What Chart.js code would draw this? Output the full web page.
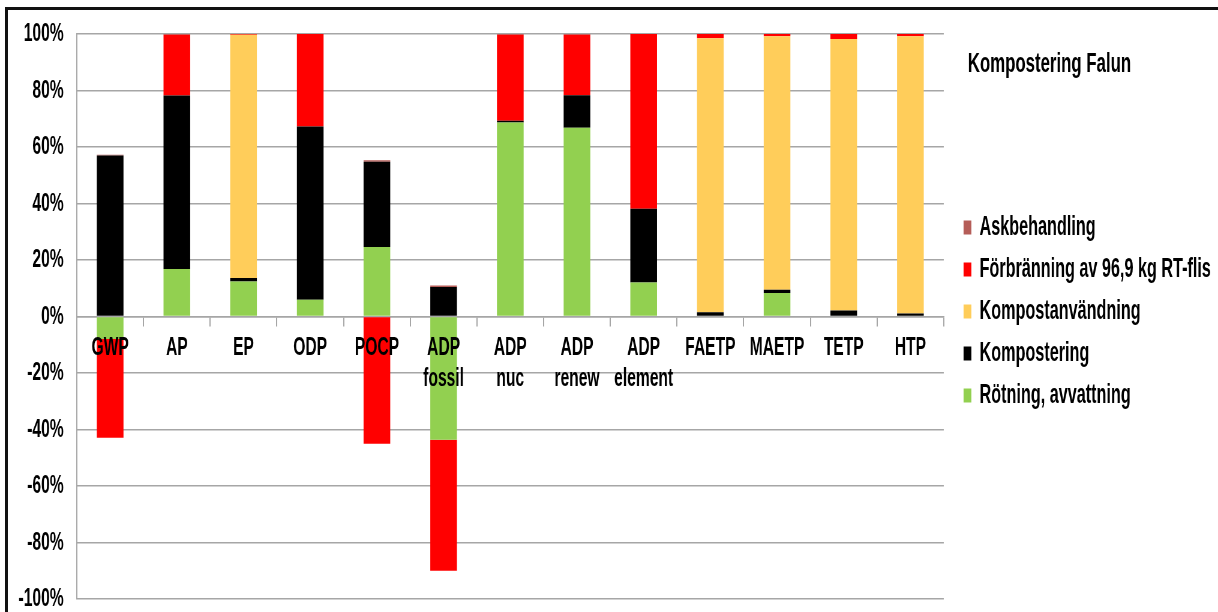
<!DOCTYPE html>
<html lang="sv">
<head>
<meta charset="utf-8">
<title>Kompostering Falun</title>
<script src="https://cdn.jsdelivr.net/npm/chart.js@4.4.1/dist/chart.umd.min.js"></script>
<style>
    html, body { margin: 0; padding: 0; background: #fff; overflow: hidden; }
    #frame {
        position: absolute; left: 5px; top: 7px; width: 1300px; height: 700px;
        border-top: 3px solid #111; border-left: 3px solid #111;
    }
    #lcaChart { position: absolute; left: 0; top: 0; }
</style>
</head>
<body>
<div id="frame"></div>
<!-- the original chart is squeezed horizontally, so draw it wide and show it at 1218px -->
<canvas id="lcaChart" width="2030" height="612" style="width:1218px;height:612px"></canvas>

<script>
// ==============================
// Data (share of total impact, %)
// ==============================
const categories = ["GWP", "AP", "EP", "ODP", "POCP", ["ADP", "fossil"], ["ADP", "nuc"],
    ["ADP", "renew"], ["ADP", "element"], "FAETP", "MAETP", "TETP", "HTP"];

const rotning          = [-8.0, 16.8, 12.4, 5.9, 24.6, -43.6, 68.7, 66.8, 12.0, 0, 8.3, 0, 0.3];
const kompostering     = [57.0, 61.4, 1.2, 61.4, 30.2, 10.4, 0.6, 11.5, 26.1, 1.5, 1.2, 2.1, 0.8];
const kompostanvandning = [0, 0, 86.1, 0, 0, 0, 0, 0, 0, 97.0, 89.7, 96.1, 98.1];
const forbranning      = [-34.9, 21.5, 0.5, 32.7, -45.0, -46.4, 30.4, 21.4, 61.9, 1.5, 0.8, 1.8, 0.8];
const askbehandling    = [0.3, 0.3, 0.1, 0, 0.5, 0.6, 0.3, 0.3, 0.1, 0, 0.1, 0, 0];

const yTicks = [-100, -80, -60, -40, -20, 0, 20, 40, 60, 80, 100];
const chartTitle = "Kompostering Falun";

// ==============================
// Chart
// ==============================
Chart.defaults.font.family = '"Liberation Sans", Arial, sans-serif';
Chart.defaults.color = "#000";

const gridColor = "#a6a6a6";
const labelFont = { size: 26, weight: "bold", lineHeight: 1.2 };

// move the legend a bit away from the plot and draw the side title above it
const sideTitle = {
    id: "sideTitle",
    beforeDraw(chart) {
        const lg = chart.legend;
        const w = lg.width;
        lg.left = chart.chartArea.right + 18;
        lg.right = lg.left + w;
        lg.top = 29;
        lg.bottom = 594;
    },
    afterDraw(chart) {
        const ctx = chart.ctx;
        ctx.save();
        ctx.font = 'bold 28px "Liberation Sans", Arial, sans-serif';
        ctx.fillStyle = "#000";
        ctx.textBaseline = "middle";
        ctx.fillText(chartTitle, chart.legend.left + 22, 64);
        ctx.restore();
    }
};

const ctx = document.getElementById("lcaChart").getContext("2d");
const chart = new Chart(ctx, {
    type: "bar",
    data: {
        labels: categories,
        datasets: [
            { label: "Rötning, avvattning", data: rotning, backgroundColor: "#92d050" },
            { label: "Kompostering", data: kompostering, backgroundColor: "#000000" },
            { label: "Kompostanvändning", data: kompostanvandning, backgroundColor: "#ffcd5a" },
            { label: "Förbränning av 96,9 kg RT-flis", data: forbranning, backgroundColor: "#ff0000" },
            { label: "Askbehandling", data: askbehandling, backgroundColor: "#b55d58" }
        ]
    },
    options: {
        responsive: false,
        devicePixelRatio: 1,
        animation: false,
        layout: { padding: { top: 34, bottom: 13, left: 0, right: 20 } },
        datasets: {
            bar: { categoryPercentage: 1, barPercentage: 0.4, borderWidth: 0 }
        },
        scales: {
            x: {
                stacked: true,
                position: { y: 0 },
                grid: { drawOnChartArea: false, drawTicks: true, tickLength: 9, color: gridColor, lineWidth: 2 },
                border: { color: gridColor, width: 1.5 },
                ticks: { font: labelFont, padding: 7, maxRotation: 0, autoSkip: false, z: 1 }
            },
            y: {
                stacked: true,
                min: -100,
                max: 100,
                afterBuildTicks: scale => { scale.ticks = yTicks.map(v => ({ value: v })); },
                afterFit: scale => { scale.width = 128; scale.paddingTop = 0; scale.paddingBottom = 0; },
                grid: { color: gridColor, lineWidth: 1.5, drawTicks: false },
                border: { color: gridColor, width: 2 },
                ticks: { font: labelFont, padding: 22, callback: value => value + "%" }
            }
        },
        plugins: {
            legend: {
                position: "right",
                reverse: true,
                maxWidth: 456,
                labels: {
                    boxWidth: 13,
                    boxHeight: 14,
                    padding: 15,
                    font: { size: 27, weight: "bold" }
                }
            },
            tooltip: { enabled: false }
        }
    },
    plugins: [sideTitle]
});
</script>
</body>
</html>
